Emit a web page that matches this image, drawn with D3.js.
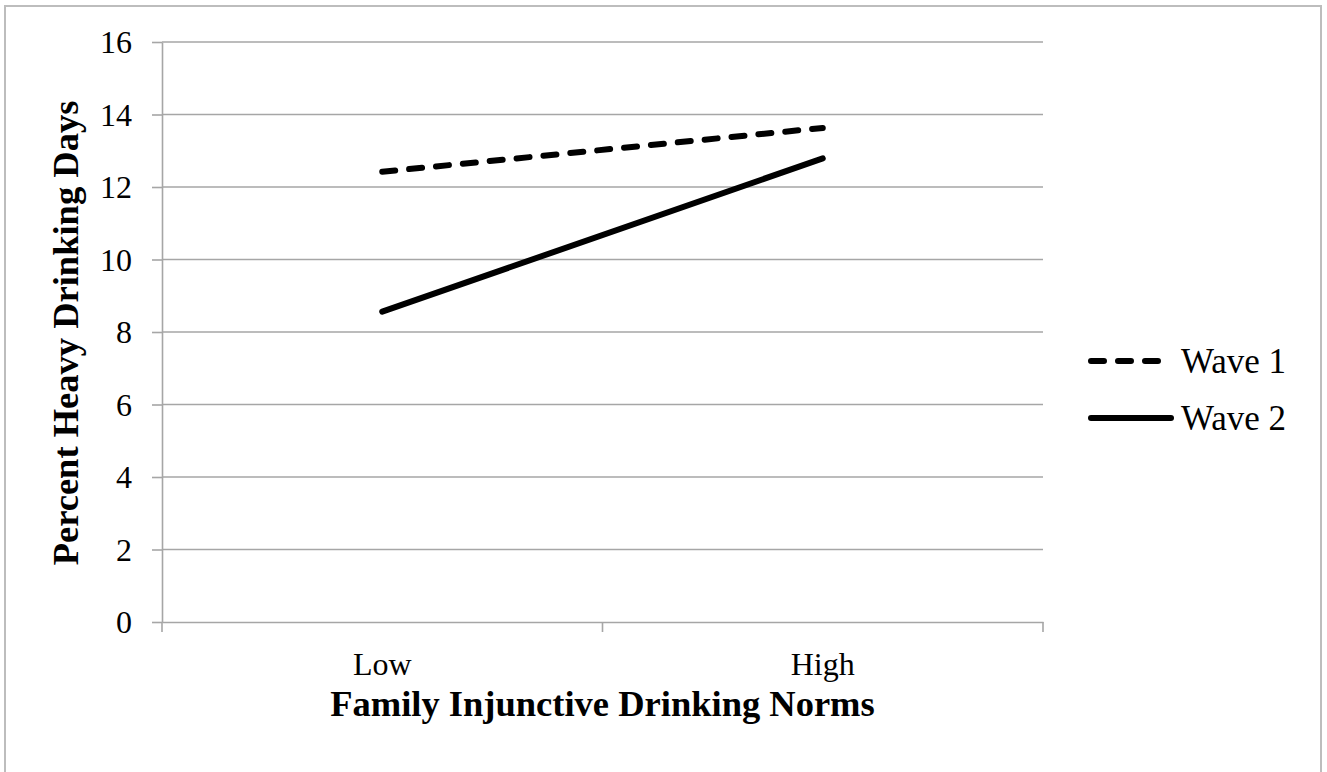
<!DOCTYPE html>
<html><head><meta charset="utf-8">
<script src="https://cdn.jsdelivr.net/npm/d3@7"></script>
<style>body{margin:0;background:#fff}svg{display:block}</style>
</head><body>
<script>
const categories = ["Low", "High"];
const wave1 = [12.42, 13.63];
const wave2 = [8.56, 12.79];
const seriesNames = ["Wave 1", "Wave 2"];
const yTicks = [0, 2, 4, 6, 8, 10, 12, 14, 16];

(function () {
const W = 1327, H = 772;
const svg = d3.select("body").append("svg").attr("width", W).attr("height", H);
const font = "'Liberation Serif','Times New Roman',serif";

svg.append("rect").attr("x", 5).attr("y", 6).attr("width", 1316).attr("height", 800)
  .attr("fill", "none").attr("stroke", "#bdbdbd").attr("stroke-width", 2);

const pL = 162, pR = 1043, pT = 42, pB = 622;
const x = d3.scaleBand().domain(categories).range([pL, pR]);
const y = d3.scaleLinear().domain([0, 16]).range([pB, pT]);

// gridlines
svg.append("g").selectAll("line").data(yTicks.filter(d => d > 0)).join("line")
  .attr("x1", pL).attr("x2", pR).attr("y1", d => y(d)).attr("y2", d => y(d))
  .attr("stroke", "#a6a6a6").attr("stroke-width", 1.6);

// y axis
const gy = svg.append("g").attr("transform", `translate(${pL},0)`)
  .call(d3.axisLeft(y).tickValues(yTicks).tickSize(10).tickPadding(20).tickSizeOuter(0));
gy.select(".domain").attr("stroke", "#a6a6a6").attr("stroke-width", 1.6);
gy.selectAll(".tick line").attr("stroke", "#a6a6a6").attr("stroke-width", 1.6);
gy.selectAll("text").attr("font-family", font).attr("font-size", 32).attr("fill", "#000").attr("dy", "0.34em");

// x axis
const gx = svg.append("g").attr("transform", `translate(0,${pB})`)
  .call(d3.axisBottom(x).tickSize(0).tickPadding(30));
gx.select(".domain").attr("stroke", "#a6a6a6").attr("stroke-width", 1.6);
gx.selectAll("text").attr("font-family", font).attr("font-size", 32).attr("fill", "#000");
const bound = [pL, pL + x.step(), pR];
svg.append("g").selectAll("line").data(bound).join("line")
  .attr("x1", d => d).attr("x2", d => d).attr("y1", pB).attr("y2", pB + 10)
  .attr("stroke", "#a6a6a6").attr("stroke-width", 1.6);

const cx = d => x(d) + x.bandwidth() / 2;
const line = d3.line().x(d => cx(d[0])).y(d => y(d[1]));
const series = [wave1, wave2];
const dashes = ["13,14", null];
series.forEach((vals, i) => {
  svg.append("path").datum(categories.map((c, j) => [c, vals[j]]))
    .attr("d", line).attr("fill", "none").attr("stroke", "#000").attr("stroke-width", 6)
    .attr("stroke-linecap", "round").attr("stroke-dasharray", dashes[i]);
});

// legend
const legY = [361, 418];
seriesNames.forEach((n, i) => {
  svg.append("line").attr("x1", 1091).attr("x2", i === 0 ? 1166 : 1171)
    .attr("y1", legY[i]).attr("y2", legY[i]).attr("stroke", "#000").attr("stroke-width", 6)
    .attr("stroke-linecap", "round").attr("stroke-dasharray", dashes[i]);
  svg.append("text").attr("x", 1181).attr("y", legY[i] + 12).text(n)
    .attr("font-family", font).attr("font-size", 35);
});

// titles
svg.append("text").attr("x", (pL + pR) / 2).attr("y", 716).attr("text-anchor", "middle")
  .attr("font-family", font).attr("font-size", 36.5).attr("font-weight", "bold")
  .text("Family Injunctive Drinking Norms");
svg.append("text").attr("transform", `translate(78,${(pT + pB) / 2 + 1}) rotate(-90)`)
  .attr("text-anchor", "middle")
  .attr("font-family", font).attr("font-size", 36.5).attr("font-weight", "bold")
  .text("Percent Heavy Drinking Days");
})();
</script>
</body></html>
